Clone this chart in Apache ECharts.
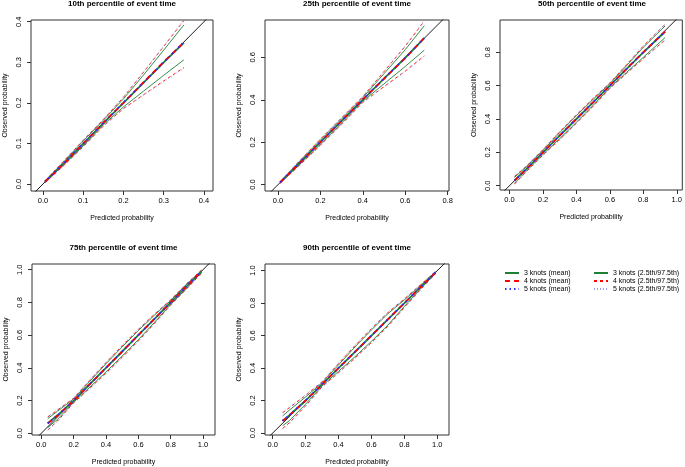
<!DOCTYPE html>
<html><head><meta charset="utf-8">
<script src="https://cdn.jsdelivr.net/npm/echarts@6/dist/echarts.min.js"></script>
<style>html,body{margin:0;padding:0;background:#fff}#c{width:685px;height:467px}</style>
</head><body><div id="c"></div>
<script>
// ---------- Data ----------
const titles = ['10th percentile of event time','25th percentile of event time','50th percentile of event time','75th percentile of event time','90th percentile of event time'];
const seriesNames = ['3 knots (mean)','4 knots (mean)','5 knots (mean)','3 knots (2.5th/97.5th)','4 knots (2.5th/97.5th)','5 knots (2.5th/97.5th)'];

// 10th percentile
const x10   = [0.005, 0.05, 0.10, 0.15, 0.20, 0.25, 0.30, 0.35];
const m3_10 = [0.006, 0.049, 0.099, 0.150, 0.200, 0.250, 0.300, 0.348];
const m4_10 = [0.005, 0.048, 0.100, 0.151, 0.200, 0.251, 0.301, 0.349];
const m5_10 = [0.006, 0.050, 0.100, 0.150, 0.201, 0.250, 0.300, 0.350];
const lo3_10 = [0.004, 0.046, 0.094, 0.146, 0.190, 0.229, 0.268, 0.306];
const hi3_10 = [0.007, 0.053, 0.106, 0.157, 0.210, 0.269, 0.330, 0.392];
const lo4_10 = [0.003, 0.044, 0.092, 0.143, 0.186, 0.220, 0.254, 0.287];
const hi4_10 = [0.008, 0.055, 0.108, 0.159, 0.214, 0.276, 0.339, 0.403];
const lo5_10 = [0.003, 0.043, 0.091, 0.142, 0.185, 0.219, 0.252, 0.285];
const hi5_10 = [0.009, 0.056, 0.109, 0.160, 0.215, 0.277, 0.340, 0.405];

// 25th percentile
const x25   = [0.01, 0.10, 0.20, 0.30, 0.40, 0.50, 0.60, 0.69];
const m3_25 = [0.011, 0.100, 0.200, 0.300, 0.400, 0.500, 0.597, 0.690];
const m4_25 = [0.010, 0.099, 0.200, 0.301, 0.402, 0.499, 0.596, 0.692];
const m5_25 = [0.011, 0.100, 0.201, 0.300, 0.401, 0.500, 0.598, 0.691];
const lo3_25 = [0.008, 0.093, 0.190, 0.290, 0.393, 0.475, 0.557, 0.634];
const hi3_25 = [0.012, 0.108, 0.210, 0.310, 0.410, 0.523, 0.636, 0.749];
const lo4_25 = [0.006, 0.090, 0.186, 0.285, 0.388, 0.462, 0.535, 0.607];
const hi4_25 = [0.014, 0.110, 0.214, 0.315, 0.415, 0.533, 0.652, 0.771];
const lo5_25 = [0.005, 0.088, 0.183, 0.282, 0.386, 0.460, 0.532, 0.604];
const hi5_25 = [0.016, 0.112, 0.217, 0.318, 0.417, 0.535, 0.655, 0.774];

// 50th percentile
const x50   = [0.03, 0.10, 0.20, 0.30, 0.40, 0.50, 0.60, 0.70, 0.80, 0.93];
const m3_50 = [0.032, 0.100, 0.200, 0.300, 0.400, 0.500, 0.600, 0.700, 0.800, 0.923];
const m4_50 = [0.030, 0.099, 0.200, 0.300, 0.401, 0.500, 0.600, 0.701, 0.801, 0.925];
const m5_50 = [0.031, 0.100, 0.201, 0.301, 0.400, 0.501, 0.600, 0.700, 0.800, 0.924];
const lo3_50 = [0.015, 0.087, 0.188, 0.282, 0.380, 0.482, 0.588, 0.680, 0.770, 0.888];
const hi3_50 = [0.050, 0.113, 0.212, 0.318, 0.420, 0.518, 0.612, 0.720, 0.830, 0.958];
const lo4_50 = [0.010, 0.084, 0.184, 0.277, 0.375, 0.477, 0.584, 0.674, 0.762, 0.874];
const hi4_50 = [0.055, 0.116, 0.216, 0.323, 0.425, 0.523, 0.616, 0.726, 0.838, 0.968];
const lo5_50 = [0.008, 0.082, 0.181, 0.273, 0.371, 0.473, 0.581, 0.672, 0.760, 0.872];
const hi5_50 = [0.058, 0.118, 0.219, 0.327, 0.429, 0.527, 0.619, 0.728, 0.840, 0.970];

// 75th percentile
const x75   = [0.04, 0.10, 0.20, 0.30, 0.40, 0.50, 0.60, 0.70, 0.80, 0.90, 0.99];
const m3_75 = [0.062, 0.110, 0.200, 0.300, 0.400, 0.500, 0.600, 0.700, 0.800, 0.900, 0.988];
const m4_75 = [0.060, 0.108, 0.200, 0.300, 0.400, 0.500, 0.600, 0.700, 0.800, 0.900, 0.989];
const m5_75 = [0.061, 0.109, 0.201, 0.300, 0.401, 0.500, 0.601, 0.700, 0.800, 0.901, 0.988];
const lo3_75 = [0.035, 0.085, 0.190, 0.282, 0.375, 0.472, 0.572, 0.678, 0.788, 0.888, 0.982];
const hi3_75 = [0.090, 0.135, 0.210, 0.318, 0.425, 0.528, 0.628, 0.722, 0.812, 0.912, 0.995];
const lo4_75 = [0.020, 0.075, 0.186, 0.276, 0.368, 0.465, 0.565, 0.672, 0.784, 0.884, 0.978];
const hi4_75 = [0.100, 0.142, 0.214, 0.324, 0.432, 0.535, 0.635, 0.728, 0.816, 0.916, 0.997];
const lo5_75 = [0.018, 0.072, 0.183, 0.272, 0.364, 0.461, 0.562, 0.669, 0.782, 0.882, 0.976];
const hi5_75 = [0.103, 0.145, 0.217, 0.328, 0.436, 0.539, 0.638, 0.731, 0.818, 0.918, 0.998];

// 90th percentile
const x90   = [0.06, 0.10, 0.20, 0.30, 0.40, 0.50, 0.60, 0.70, 0.80, 0.90, 0.99];
const m3_90 = [0.075, 0.108, 0.200, 0.300, 0.400, 0.500, 0.600, 0.700, 0.800, 0.900, 0.989];
const m4_90 = [0.074, 0.107, 0.200, 0.300, 0.400, 0.500, 0.600, 0.700, 0.800, 0.900, 0.989];
const m5_90 = [0.076, 0.109, 0.201, 0.301, 0.401, 0.500, 0.600, 0.701, 0.800, 0.900, 0.990];
const lo3_90 = [0.045, 0.075, 0.178, 0.290, 0.380, 0.470, 0.565, 0.665, 0.780, 0.890, 0.985];
const hi3_90 = [0.105, 0.140, 0.222, 0.310, 0.420, 0.530, 0.635, 0.735, 0.820, 0.910, 0.993];
const lo4_90 = [0.028, 0.062, 0.168, 0.285, 0.372, 0.462, 0.557, 0.658, 0.774, 0.885, 0.982];
const hi4_90 = [0.125, 0.155, 0.232, 0.315, 0.428, 0.538, 0.643, 0.742, 0.826, 0.915, 0.996];
const lo5_90 = [0.024, 0.058, 0.164, 0.282, 0.368, 0.458, 0.553, 0.655, 0.772, 0.883, 0.981];
const hi5_90 = [0.129, 0.159, 0.236, 0.318, 0.432, 0.542, 0.647, 0.745, 0.828, 0.917, 0.997];

// Tick labels
const xTicks10 = [0, 0.1, 0.2, 0.3, 0.4];
const yTicks10 = [0, 0.1, 0.2, 0.3, 0.4];
const xTicks25 = [0, 0.2, 0.4, 0.6, 0.8];
const yTicks25 = [0, 0.2, 0.4, 0.6];
const xTicks50 = [0, 0.2, 0.4, 0.6, 0.8, 1.0];
const yTicks50 = [0, 0.2, 0.4, 0.6, 0.8];
const xTicks75 = [0, 0.2, 0.4, 0.6, 0.8, 1.0];
const yTicks75 = [0, 0.2, 0.4, 0.6, 0.8, 1.0];
const xTicks90 = [0, 0.2, 0.4, 0.6, 0.8, 1.0];
const yTicks90 = [0, 0.2, 0.4, 0.6, 0.8, 1.0];

// ---------- Layout ----------
const panelData = [
  {x:x10, lines:[m3_10,m4_10,m5_10,lo3_10,hi3_10,lo4_10,hi4_10,lo5_10,hi5_10], xt:xTicks10, yt:yTicks10},
  {x:x25, lines:[m3_25,m4_25,m5_25,lo3_25,hi3_25,lo4_25,hi4_25,lo5_25,hi5_25], xt:xTicks25, yt:yTicks25},
  {x:x50, lines:[m3_50,m4_50,m5_50,lo3_50,hi3_50,lo4_50,hi4_50,lo5_50,hi5_50], xt:xTicks50, yt:yTicks50},
  {x:x75, lines:[m3_75,m4_75,m5_75,lo3_75,hi3_75,lo4_75,hi4_75,lo5_75,hi5_75], xt:xTicks75, yt:yTicks75},
  {x:x90, lines:[m3_90,m4_90,m5_90,lo3_90,hi3_90,lo4_90,hi4_90,lo5_90,hi5_90], xt:xTicks90, yt:yTicks90}
];
const layout = [
  {left:31,  top:20,  width:182, height:171, xmin:-0.0298, xmax:0.4224, ymin:-0.0173, ymax:0.4042},
  {left:265, top:20,  width:184, height:171, xmin:-0.0614, xmax:0.8066, ymin:-0.030,  ymax:0.776},
  {left:500, top:20,  width:184, height:170, xmin:-0.0567, xmax:1.033,  ymin:-0.0258, ymax:0.9937},
  {left:32,  top:264, width:183, height:171, xmin:-0.0575, xmax:1.074,  ymin:-0.0104, ymax:1.0348},
  {left:265, top:264, width:184, height:172, xmin:-0.047,  xmax:1.0713, ymin:-0.0123, ymax:1.041}
];
const FONT = '"Liberation Sans", Arial, Helvetica, sans-serif';
const GREEN = '#1f7f35', RED = '#ff0000', BLUE = '#2b2bff', LAV = '#9f9ff0';
const styles = [
  {name:seriesNames[0], color:GREEN, width:1.8, type:'solid'},
  {name:seriesNames[1], color:RED,   width:1.8, type:[5,4]},
  {name:seriesNames[2], color:BLUE,  width:1.6, type:[1.5,3]},
  {name:seriesNames[3], color:GREEN, width:0.9, type:'solid'},
  {name:seriesNames[3], color:GREEN, width:0.9, type:'solid'},
  {name:seriesNames[4], color:RED,   width:0.9, type:[3,3]},
  {name:seriesNames[4], color:RED,   width:0.9, type:[3,3]},
  {name:seriesNames[5], color:LAV,   width:0.9, type:[1,2]},
  {name:seriesNames[5], color:LAV,   width:0.9, type:[1,2]}
];

const grid = [], xAxis = [], yAxis = [], series = [], title = [];
const fmt = v => v.toFixed(1);
layout.forEach((L, i) => {
  grid.push({left:L.left, top:L.top, width:L.width, height:L.height, show:true, borderColor:'#333', borderWidth:1, backgroundColor:'transparent'});
  title.push({text:titles[i], left:L.left + L.width/2, top:L.top - 20, textAlign:'center', padding:0,
    textStyle:{fontFamily:FONT, fontSize:8, fontWeight:'bold', color:'#000'}});
  const pd = panelData[i];
  xAxis.push({type:'value', gridIndex:i, min:L.xmin, max:L.xmax,
    name:'Predicted probability', nameLocation:'middle', nameGap:24,
    nameTextStyle:{fontFamily:FONT, fontSize:7, color:'#000'},
    axisLine:{show:false, onZero:false}, splitLine:{show:false},
    axisTick:{show:true, inside:false, length:4, customValues:pd.xt, lineStyle:{color:'#333'}},
    axisLabel:{customValues:pd.xt, formatter:fmt, margin:6, fontFamily:FONT, fontSize:7.5, color:'#000'}});
  yAxis.push({type:'value', gridIndex:i, min:L.ymin, max:L.ymax,
    name:'Observed probability', nameLocation:'middle', nameGap:22, nameRotate:90,
    nameTextStyle:{fontFamily:FONT, fontSize:7, color:'#000'},
    axisLine:{show:false, onZero:false}, splitLine:{show:false},
    axisTick:{show:true, inside:false, length:4, customValues:pd.yt, lineStyle:{color:'#333'}},
    axisLabel:{customValues:pd.yt, formatter:fmt, rotate:90, margin:8, fontFamily:FONT, fontSize:7.5, color:'#000'}});
  // reference diagonal
  series.push({type:'line', name:'diag', xAxisIndex:i, yAxisIndex:i, symbol:'none', silent:true, clip:true,
    data:[[-0.2,-0.2],[1.3,1.3]], lineStyle:{color:'#000', width:0.9}, z:3});
  pd.lines.forEach((ys, k) => {
    const st = styles[k];
    series.push({type:'line', name:st.name, xAxisIndex:i, yAxisIndex:i, symbol:'none', silent:true,
      data: pd.x.map((xv, j) => [xv, ys[j]]),
      lineStyle:{color:st.color, width:st.width, type:st.type}, itemStyle:{color:st.color},
      z: k < 3 ? 4 : 2});
  });
});

const legendCommon = {orient:'vertical', itemWidth:14, itemHeight:6, itemGap:0, padding:0,
  itemStyle:{opacity:0},
  textStyle:{fontFamily:FONT, fontSize:7, color:'#000', lineHeight:8}, selectedMode:false};
const option = {
  animation:false, backgroundColor:'#fff',
  title, grid, xAxis, yAxis, series,
  legend:[
    Object.assign({}, legendCommon, {left:504, top:269, data:seriesNames.slice(0,3)}),
    Object.assign({}, legendCommon, {left:593, top:269, data:seriesNames.slice(3,6)})
  ]
};
const chart = echarts.init(document.getElementById('c'), null, {renderer:'canvas'});
chart.setOption(option);
</script>
</body></html>
